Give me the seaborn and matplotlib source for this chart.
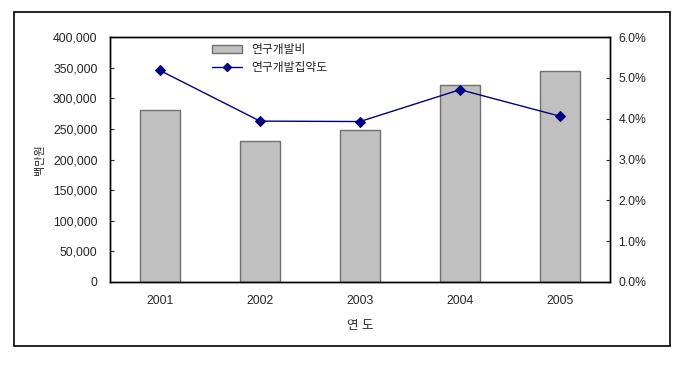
import numpy as np
import pandas as pd
import matplotlib
matplotlib.use('Agg')
import matplotlib.pyplot as plt
import matplotlib.ticker as mticker
from matplotlib.patches import Rectangle, Patch
from matplotlib.lines import Line2D
import seaborn as sns

# chart data
years = ['2001', '2002', '2003', '2004', '2005']
rnd_cost = [280000, 230500, 247500, 322000, 345000]   # 백만원
rnd_intensity = [5.18, 3.94, 3.93, 4.71, 4.06]        # %
bar_label = '연구개발비'
line_label = '연구개발집약도'

sns.set_style('white')
plt.rcParams['font.family'] = ['Liberation Sans', 'Noto Sans CJK KR', 'DejaVu Sans']
plt.rcParams['font.size'] = 8.8

df = pd.DataFrame({'year': years, 'cost': rnd_cost, 'rate': rnd_intensity})

fig = plt.figure(figsize=(6.92, 3.84), dpi=100)
fig.patch.set_facecolor('white')
ax = fig.add_axes([110 / 692, 102 / 384, 500 / 692, 245 / 384])

# outer chart frame
fig.patches.append(Rectangle((14 / 692, 38 / 384), 656 / 692, 334 / 384,
                             transform=fig.transFigure, fill=False,
                             edgecolor='black', linewidth=1.2))

sns.barplot(data=df, x='year', y='cost', ax=ax, width=0.4, color='#C0C0C0',
            saturation=1, edgecolor='#707070', linewidth=1)
ax.set_xlim(-0.5, len(years) - 0.5)
ax.set_ylim(0, 400000)
ax.yaxis.set_major_locator(mticker.MultipleLocator(50000))
ax.yaxis.set_major_formatter(mticker.FuncFormatter(lambda v, p: f'{int(v):,}'))
ax.set_ylabel('백만원', fontsize=8, labelpad=6)
ax.set_xlabel('연 도', fontsize=9, labelpad=10)

# x ticks at category boundaries, labels at centers
ax.set_xticks(np.arange(len(years)))
ax.set_xticklabels(years)
ax.tick_params(axis='x', length=0, pad=9)
ax.set_xticks(np.arange(0.5, len(years) - 1), minor=True)
ax.tick_params(axis='x', which='minor', direction='in', length=3, width=0.8)
ax.tick_params(axis='y', direction='in', length=3, width=0.8, pad=9)

ax2 = ax.twinx()
sns.lineplot(x=np.arange(len(years)), y=rnd_intensity, ax=ax2, color='#000080',
             marker='D', markersize=5, markeredgecolor='#000080', linewidth=1)
ax2.set_ylim(0, 6)
ax2.yaxis.set_major_locator(mticker.MultipleLocator(1))
ax2.yaxis.set_major_formatter(mticker.FuncFormatter(lambda v, p: f'{v:.1f}%'))
ax2.tick_params(axis='y', direction='in', length=3, width=0.8, pad=6)
ax2.set_ylabel('')

for a in (ax, ax2):
    for s in a.spines.values():
        s.set_color('black')
        s.set_linewidth(1)

handles = [Patch(facecolor='#C0C0C0', edgecolor='#707070', linewidth=1),
           Line2D([0], [0], color='#000080', marker='D', markersize=4, linewidth=1)]
ax2.legend(handles, [bar_label, line_label], loc='upper left',
           bbox_to_anchor=(0.19, 1.0), frameon=False, fontsize=8.5,
           handlelength=2.5, handleheight=0.6, labelspacing=0.5, borderaxespad=0.2)

fig.savefig('out.png', dpi=100, facecolor='white')
